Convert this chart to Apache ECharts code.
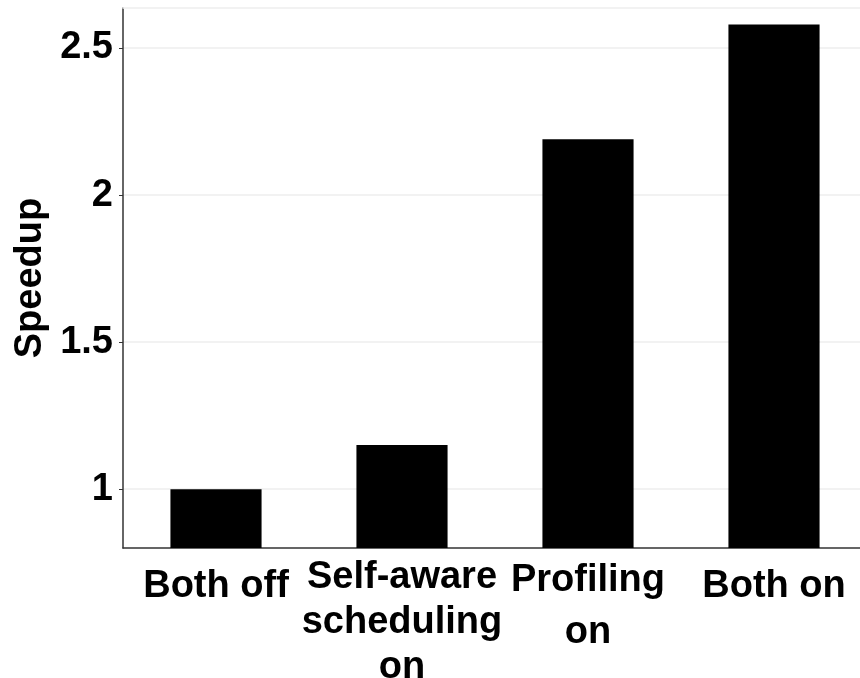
<!DOCTYPE html>
<html><head><meta charset="utf-8">
<script src="https://cdn.jsdelivr.net/npm/echarts@6/dist/echarts.min.js"></script>
<style>html,body{margin:0;padding:0;background:#fff}#c{width:860px;height:678px}</style>
</head><body><div id="c"></div>
<script>
const categories = ['Both off', 'Self-aware\nscheduling\non', 'Profiling\non', 'Both on'];
const speedup = [1.0, 1.15, 2.19, 2.58];
const yTicks = [1, 1.5, 2, 2.5];
const yMin = 0.8, yMax = 2.636;

const font = 'Liberation Sans, Arial, Helvetica, sans-serif';
// line spacing per label (style only)
const labelLineHeights = [64, 45, 52, 64];
const catData = categories.map((c, i) => ({ value: c, textStyle: { lineHeight: labelLineHeights[i] } }));

const chart = echarts.init(document.getElementById('c'));
chart.setOption({
  animation: false,
  backgroundColor: '#fff',
  grid: { left: 123, top: 8, width: 744, bottom: 130, containLabel: false, outerBoundsMode: 'none' },
  xAxis: [{
    type: 'category', data: catData,
    axisLine: { lineStyle: { color: '#333', width: 1.5 } },
    axisTick: { show: false },
    axisLabel: { color: '#000', fontFamily: font, fontWeight: 'bold', fontSize: 38, lineHeight: 45, margin: 7, interval: 0,
      verticalAlign: 'top' }
  }, {
    type: 'category', data: categories, position: 'top',
    axisLine: { lineStyle: { color: '#eee', width: 1.5 } },
    axisTick: { show: false }, axisLabel: { show: false }
  }],
  yAxis: {
    type: 'value', min: yMin, max: yMax,
    name: 'Speedup', nameLocation: 'middle', nameGap: 72,
    nameTextStyle: { color: '#000', fontFamily: font, fontWeight: 'bold', fontSize: 38 },
    axisLine: { show: true, lineStyle: { color: '#333', width: 1.5 } },
    axisTick: { show: true, length: 4, customValues: yTicks, lineStyle: { color: '#333' } },
    axisLabel: { color: '#000', fontFamily: font, fontWeight: 'bold', fontSize: 38, margin: 10, customValues: yTicks },
    splitLine: { show: true, lineStyle: { color: '#eee', width: 1.5 } }
  },
  series: [{
    type: 'bar', data: speedup, barWidth: '49%',
    itemStyle: { color: '#000' }
  }]
});
</script></body></html>
